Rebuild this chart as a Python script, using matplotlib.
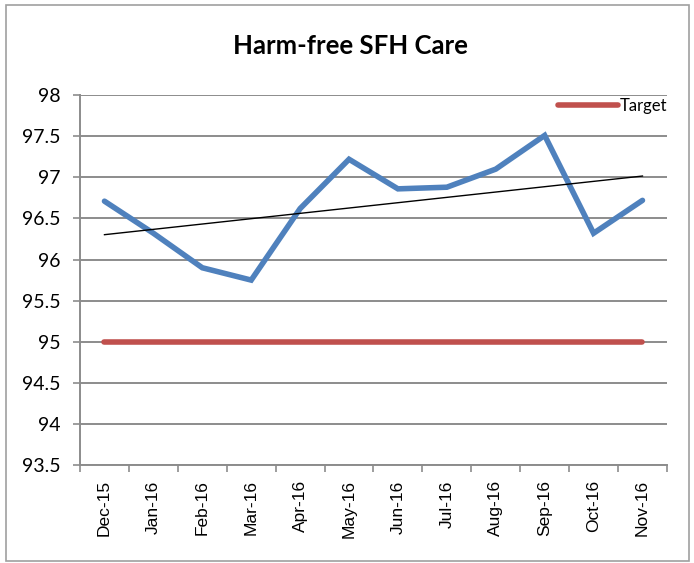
import numpy as np
import matplotlib
matplotlib.use("Agg")
import matplotlib.pyplot as plt
from matplotlib.patches import Rectangle

months = ["Dec-15", "Jan-16", "Feb-16", "Mar-16", "Apr-16", "May-16",
          "Jun-16", "Jul-16", "Aug-16", "Sep-16", "Oct-16", "Nov-16"]
harm_free = [96.71, 96.32, 95.90, 95.75, 96.62, 97.22,
             96.86, 96.88, 97.10, 97.51, 96.32, 96.72]
target = [95] * len(months)
y_ticks = [93.5, 94, 94.5, 95, 95.5, 96, 96.5, 97, 97.5, 98]

fig = plt.figure(figsize=(6.94, 5.63), dpi=100)
ax = fig.add_axes([0.1153, 0.174, 0.8457, 0.657])

x = np.arange(len(months))

# gridlines first so the series sit on top
for v in y_ticks:
    ax.axhline(v, color="#8c8c8c", lw=1.4, zorder=1)

# target line
ax.plot(x, target, color="#C0504D", lw=4, solid_capstyle="round",
        label="Target", zorder=3)

# monthly series
ax.plot(x, harm_free, color="#4F81BD", lw=4, solid_capstyle="round",
        solid_joinstyle="miter", zorder=4)

# linear trendline of the series
slope, icpt = np.polyfit(x, harm_free, 1)
ax.plot(x, slope * x + icpt, color="black", lw=1, zorder=5)

ax.set_xlim(-0.5, len(months) - 0.5)
ax.set_ylim(93.5, 98)

ax.set_yticks(y_ticks)
ax.set_yticklabels([f"{v:g}" for v in y_ticks], fontfamily="Lato", fontsize=14)
ax.tick_params(axis="y", length=5, width=1.2, color="#8c8c8c", pad=9)

ax.set_xticks(x)
ax.set_xticklabels(months, rotation=90, fontfamily="Liberation Sans", fontsize=12.5)
ax.set_xticks(np.arange(-0.5, len(months)), minor=True)
ax.tick_params(axis="x", which="major", length=0, pad=11)
ax.tick_params(axis="x", which="minor", length=5, width=1.2, color="#8c8c8c")

for side in ["top", "right"]:
    ax.spines[side].set_visible(False)
for side in ["left", "bottom"]:
    ax.spines[side].set_color("#8c8c8c")
    ax.spines[side].set_linewidth(1.4)

fig.text(0.505, 0.918, "Harm-free SFH Care", ha="center", va="center",
         fontfamily="Lato", fontweight="bold", fontsize=18.5)

leg = ax.legend(loc="upper right", bbox_to_anchor=(1.012, 1.01), frameon=False,
                handlelength=3.6, handletextpad=0.1, borderaxespad=0,
                prop={"family": "Lato", "size": 12})

# light frame around the whole chart
fig.patches.append(Rectangle((0.008, 0.003), 0.985, 0.988, transform=fig.transFigure,
                             fill=False, edgecolor="#a0a0a0", lw=1.2))

fig.savefig("out.png", dpi=100)
